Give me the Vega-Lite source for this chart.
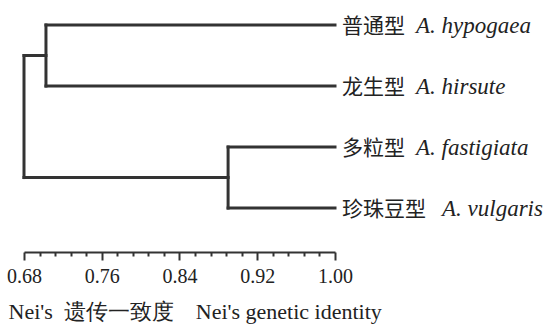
{
  "$schema": "https://vega.github.io/schema/vega-lite/v6.json",
  "width": 311,
  "height": 252,
  "autosize": {"type": "none"},
  "padding": {"left": 24, "top": 0, "right": 213, "bottom": 73},
  "background": "white",
  "config": {"view": {"stroke": null}},
  "datasets": {
    "segments": [
      {"x1": 0.7026, "x2": 1.0, "y1": 1, "y2": 1},
      {"x1": 0.7026, "x2": 1.0, "y1": 2, "y2": 2},
      {"x1": 0.89, "x2": 1.0, "y1": 3, "y2": 3},
      {"x1": 0.89, "x2": 1.0, "y1": 4, "y2": 4},
      {"x1": 0.68, "x2": 0.7026, "y1": 1.5, "y2": 1.5},
      {"x1": 0.68, "x2": 0.89, "y1": 3.5, "y2": 3.5},
      {"x1": 0.7026, "x2": 0.7026, "y1": 1, "y2": 2},
      {"x1": 0.89, "x2": 0.89, "y1": 3, "y2": 4},
      {"x1": 0.68, "x2": 0.68, "y1": 1.5, "y2": 3.5}
    ],
    "leaves": [
      {"cn": "普通型", "lat": "A. hypogaea", "pos": 1, "sim": 1.0},
      {"cn": "龙生型", "lat": "A. hirsute", "pos": 2, "sim": 1.0},
      {"cn": "多粒型", "lat": "A. fastigiata", "pos": 3, "sim": 1.0},
      {"cn": "珍珠豆型", "lat": "A. vulgaris", "pos": 4, "sim": 1.0}
    ]
  },
  "resolve": {"axis": {"x": "independent"}},
  "layer": [
    {
      "data": {"name": "segments"},
      "mark": {"type": "rule", "strokeWidth": 3, "color": "#333333", "strokeCap": "square"},
      "encoding": {
        "x": {
          "field": "x1",
          "type": "quantitative",
          "scale": {"domain": [0.68, 1.0], "nice": false, "zero": false},
          "axis": {
            "orient": "bottom",
            "values": [0.68, 0.76, 0.84, 0.92, 1.0],
            "tickCount": 100,
            "format": ".2f",
            "tickSize": 8,
            "tickWidth": 2,
            "tickColor": "#333333",
            "domainColor": "#333333",
            "domainWidth": 2,
            "grid": false,
            "labelFont": "Liberation Serif",
            "labelFontSize": 20,
            "labelColor": "#222222",
            "labelPadding": 6,
            "labelFlush": false,
            "labelOverlap": false,
            "title": "Nei's\u00a0\u00a0遗传一致度\u00a0\u00a0\u00a0\u00a0Nei's genetic identity",
            "titleFont": "Liberation Serif",
            "titleFontSize": 22,
            "titleFontWeight": "normal",
            "titleColor": "#222222",
            "titleAnchor": "start",
            "titleAlign": "left",
            "titleBaseline": "alphabetic",
            "titleX": -16,
            "titleY": 66
          }
        },
        "x2": {"field": "x2"},
        "y": {
          "field": "y1",
          "type": "quantitative",
          "scale": {"domain": [0.59, 4.72], "reverse": true, "nice": false, "zero": false},
          "axis": null
        },
        "y2": {"field": "y2"}
      }
    },
    {
      "data": {"name": "leaves"},
      "mark": {"type": "text", "align": "left", "baseline": "alphabetic", "dx": 7, "dy": 8, "font": "Noto Sans CJK SC", "fontSize": 21, "color": "#222222"},
      "encoding": {
        "x": {
          "field": "sim",
          "type": "quantitative",
          "scale": {"domain": [0.68, 1.0], "nice": false, "zero": false},
          "axis": {
            "orient": "bottom",
            "values": [0.696, 0.712, 0.728, 0.744, 0.776, 0.792, 0.808, 0.824, 0.856, 0.872, 0.888, 0.904, 0.936, 0.952, 0.968, 0.984],
            "tickCount": 100,
            "tickSize": 4,
            "tickWidth": 2,
            "tickColor": "#333333",
            "domain": false,
            "labels": false,
            "grid": false,
            "title": null
          }
        },
        "y": {"field": "pos", "type": "quantitative"},
        "text": {"field": "cn"}
      }
    },
    {
      "data": {"name": "leaves"},
      "transform": [{"filter": "length(datum.cn) == 3"}],
      "mark": {"type": "text", "align": "left", "baseline": "alphabetic", "dx": 81, "dy": 8, "font": "Liberation Serif", "fontStyle": "italic", "fontSize": 23, "color": "#222222"},
      "encoding": {
        "x": {"field": "sim", "type": "quantitative", "axis": null},
        "y": {"field": "pos", "type": "quantitative"},
        "text": {"field": "lat"}
      }
    },
    {
      "data": {"name": "leaves"},
      "transform": [{"filter": "length(datum.cn) == 4"}],
      "mark": {"type": "text", "align": "left", "baseline": "alphabetic", "dx": 107, "dy": 8, "font": "Liberation Serif", "fontStyle": "italic", "fontSize": 23, "color": "#222222"},
      "encoding": {
        "x": {"field": "sim", "type": "quantitative", "axis": null},
        "y": {"field": "pos", "type": "quantitative"},
        "text": {"field": "lat"}
      }
    }
  ]
}
